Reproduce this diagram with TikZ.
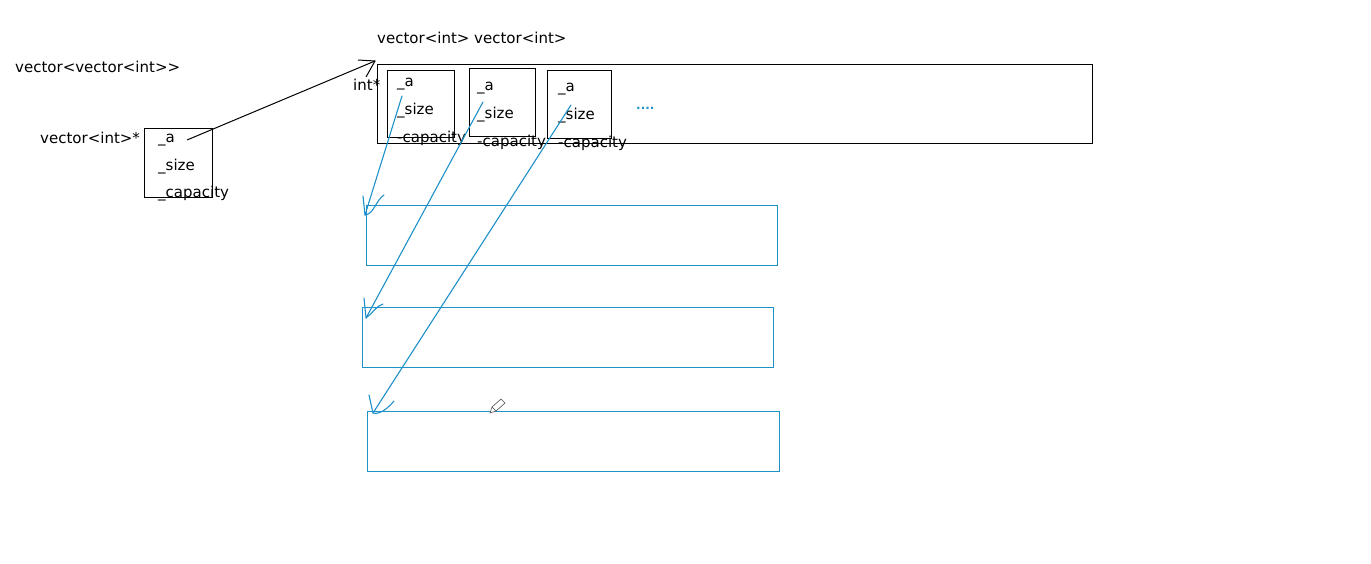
\documentclass[tikz,border=0pt]{standalone}
\usepackage{fontspec}
\setmainfont{DejaVu Sans}
\usetikzlibrary{positioning}

\definecolor{penblue}{RGB}{30,145,200}

\begin{document}
\begin{tikzpicture}[x=1pt,y=-1pt,
  lbl/.style={anchor=west,inner sep=0pt,yshift=-1pt,font=\fontsize{15}{17}\selectfont},
  blk/.style={draw=black,line width=1pt,inner sep=0pt,anchor=north west},
  rowbox/.style={draw=penblue,line width=1.3pt,inner sep=0pt,anchor=north west,minimum width=411pt,minimum height=60pt},
  pen/.style={draw=penblue,line width=1.1pt,line cap=round,line join=round}]
\useasboundingbox (0,0) rectangle (1371,563);

% outer vector object
\node [lbl] (vvlbl) at (15,66) {vector<vector<int>{}>};
\node [lbl] (vplbl) at (40,137) {vector<int>*};
\node [blk,minimum width=68pt,minimum height=69pt] (pbox) at (144,128) {};
\node [lbl] (pa) at (158,139) {\_a};
\node [lbl] (psize) at (158,166) {\_size};
\node [lbl] (pcap) at (158,193) {\_capacity};

% array of vector<int>
\node [lbl] (arrlbl) at (377,37) {vector<int> vector<int>};
\node [lbl] (intlbl) at (353,84) {int*};
\node [blk,minimum width=715pt,minimum height=79pt] (arr) at (377,64) {};

%% the three vector<int> cells
\node [blk,minimum width=67pt,minimum height=67pt] (cellA) at (387,70) {};
\node [blk,minimum width=66pt,minimum height=68pt] (cellB) at (469,68) {};
\node [blk,minimum width=64pt,minimum height=68pt] (cellC) at (547,70) {};

\node [lbl] (aA) at (397,83) {\_a};
\node [lbl] (sA) at (397,110) {\_size};
\node [lbl] (cA) at (397,137) {-capacity};
\node [lbl] (aB) at (477,87) {\_a};
\node [lbl] (sB) at (477,114) {\_size};
\node [lbl] (cB) at (477,141) {-capacity};
\node [lbl] (aC) at (558,88) {\_a};
\node [lbl] (sC) at (558,115) {\_size};
\node [lbl] (cC) at (558,142) {-capacity};
\node [anchor=west,inner sep=0pt,text=penblue,font=\bfseries\fontsize{12}{12}\selectfont] (more) at (636,108) {....};

% int buffers
\node [rowbox] (rowA) at (366,205) {};
\node [rowbox] (rowB) at (362,307) {};
\node [rowbox,minimum width=412pt] (rowC) at (367,411) {};

% pointer from _a to the array
\coordinate (pstart) at (187,140);
\coordinate (arrtip) at (375,61);
\draw [line width=1pt] (pstart) -- (arrtip);
\draw [line width=1pt] (358,60) -- (arrtip) -- (366,77);

% pointers from each _a to its buffer
\coordinate (fromA) at (402,96);
\coordinate (fromB) at (483,102);
\coordinate (fromC) at (571,105);
\coordinate (tipA) at (365,215);
\coordinate (tipB) at (366,318);
\coordinate (tipC) at (373,413);
\draw [pen] (fromA) -- (tipA);
\draw [pen] (fromB) -- (tipB);
\draw [pen] (fromC) -- (tipC);
\draw [pen] (363,196) -- (tipA) .. controls (374,214) and (376,200) .. (384,195);
\draw [pen] (364,298) -- (tipB) .. controls (372,314) and (376,306) .. (383,304);
\draw [pen] (369,395) -- (tipC) .. controls (380,415) and (388,408) .. (394,401);

%% pencil cursor
\draw [black!70,line width=0.6pt,fill=white] (490,413) -- (492,407) -- (501,399) -- (505,403) -- (496,411) -- cycle;
\draw [black!70,line width=0.6pt] (492,407) -- (496,411);
\end{tikzpicture}
\end{document}
